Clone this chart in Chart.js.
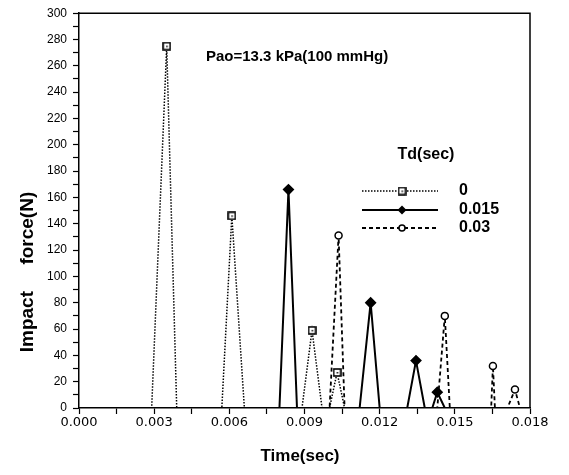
<!DOCTYPE html>
<html>
<head>
<meta charset="utf-8">
<script src="https://cdn.jsdelivr.net/npm/chart.js@4.4.1/dist/chart.umd.min.js"></script>
<style>
  html, body { margin: 0; padding: 0; background: #fff; }
  #wrap { width: 569px; height: 475px; }
</style>
</head>
<body>
<div id="wrap"><canvas id="chart" width="569" height="475"></canvas></div>
<script>
// Td = 0 s (dotted, boxed squares)
const timeTd0  = [0, 0.0029, 0.0035, 0.0039, 0.0057, 0.0061, 0.0066, 0.0089, 0.0093, 0.0097, 0.0100, 0.0103, 0.0106, 0.0175];
const forceTd0 = [0, 0, 275, 0, 0, 146, 0, 0, 59, 0, 0, 27, 0, 0];

// Td = 0.015 s (solid, filled diamonds)
const timeTd015  = [0, 0.0080, 0.00836, 0.0087, 0.0112, 0.01164, 0.0120, 0.0131, 0.01345, 0.0138, 0.0141, 0.0143, 0.0146, 0.0175];
const forceTd015 = [0, 0, 166, 0, 0, 80, 0, 0, 36, 0, 0, 12, 0, 0];

// Td = 0.03 s (dashed, open circles)
const timeTd03  = [0, 0.0100, 0.01036, 0.0106, 0.0143, 0.0146, 0.0148, 0.01645, 0.01652, 0.0166, 0.0171, 0.0174, 0.0176, 0.0178];
const forceTd03 = [0, 0, 131, 0, 0, 70, 0, 0, 32, 0, 0, 14, 0, 0];

const seriesLabels = ['0', '0.015', '0.03'];
const xTickStep = 0.0015;
const yTickStep = 10;

const FONT = '"Liberation Sans", Arial, Helvetica, sans-serif';

function toPoints(xs, ys) {
  return xs.map((x, i) => ({ x: x, y: ys[i] }));
}

// boxed-square marker (square with a dot inside)
function makeSquareMarker() {
  const c = document.createElement('canvas');
  c.width = 9; c.height = 9;
  const g = c.getContext('2d');
  g.fillStyle = '#fff';
  g.fillRect(0, 0, 9, 9);
  g.strokeStyle = '#000';
  g.lineWidth = 1.6;
  g.strokeRect(1, 1, 7, 7);
  g.fillStyle = '#000';
  g.fillRect(4, 4, 1.5, 1.5);
  return c;
}
const squareMarker = makeSquareMarker();

const peakOnly = r => ctx => (ctx.raw && ctx.raw.y > 0 ? r : 0);

const datasets = [
  {
    label: seriesLabels[0],
    data: toPoints(timeTd0, forceTd0),
    borderColor: '#000',
    borderWidth: 1.5,
    borderDash: [1.5, 1.5],
    pointStyle: squareMarker,
    pointRadius: peakOnly(4),
    backgroundColor: '#fff'
  },
  {
    label: seriesLabels[1],
    data: toPoints(timeTd015, forceTd015),
    borderColor: '#000',
    borderWidth: 2,
    pointStyle: 'rectRot',
    pointRadius: peakOnly(4.5),
    pointBackgroundColor: '#000',
    backgroundColor: '#000'
  },
  {
    label: seriesLabels[2],
    data: toPoints(timeTd03, forceTd03),
    borderColor: '#000',
    borderWidth: 1.8,
    borderDash: [4, 3],
    pointStyle: 'circle',
    pointRadius: peakOnly(3.5),
    pointBorderWidth: 1.5,
    pointBackgroundColor: '#fff',
    backgroundColor: '#fff'
  }
];

const decor = {
  id: 'decor',
  afterDraw(chart) {
    const ctx = chart.ctx;
    const a = chart.chartArea;
    ctx.save();
    // frame: top and right edges
    ctx.strokeStyle = '#000';
    ctx.lineWidth = 1.5;
    ctx.beginPath();
    ctx.moveTo(a.left, a.top);
    ctx.lineTo(a.right, a.top);
    ctx.lineTo(a.right, a.bottom);
    ctx.stroke();

    ctx.fillStyle = '#000';
    // annotation
    ctx.font = 'bold 15px ' + FONT;
    ctx.textAlign = 'left';
    ctx.textBaseline = 'middle';
    ctx.fillText('Pao=13.3 kPa(100 mmHg)', 206, 57);

    // legend
    ctx.font = 'bold 16px ' + FONT;
    ctx.textAlign = 'center';
    ctx.fillText('Td(sec)', 426, 155);
    const rows = [191, 210, 228];
    const x1 = 362, x2 = 438, mx = 402;
    datasets.forEach((ds, i) => {
      const y = rows[i];
      ctx.setLineDash(ds.borderDash || []);
      ctx.lineWidth = ds.borderWidth;
      ctx.beginPath();
      ctx.moveTo(x1, y);
      ctx.lineTo(x2, y);
      ctx.stroke();
      ctx.setLineDash([]);
      if (i === 0) {
        ctx.drawImage(squareMarker, mx - 4.5, y - 4.5);
      } else if (i === 1) {
        ctx.beginPath();
        ctx.moveTo(mx, y - 4.5); ctx.lineTo(mx + 4.5, y); ctx.lineTo(mx, y + 4.5); ctx.lineTo(mx - 4.5, y);
        ctx.closePath();
        ctx.fill();
      } else {
        ctx.beginPath();
        ctx.arc(mx, y, 3, 0, Math.PI * 2);
        ctx.fillStyle = '#fff';
        ctx.fill();
        ctx.lineWidth = 1.5;
        ctx.stroke();
        ctx.fillStyle = '#000';
      }
      ctx.textAlign = 'left';
      ctx.fillText(ds.label, 459, y);
    });

    // axis titles
    ctx.font = 'bold 17px ' + FONT;
    ctx.textAlign = 'center';
    ctx.fillText('Time(sec)', 300, 456);
    ctx.font = 'bold 19px ' + FONT;
    ctx.translate(28, 272);
    ctx.rotate(-Math.PI / 2);
    ctx.fillText('Impact     force(N)', 0, 0);
    ctx.restore();
  }
};

new Chart(document.getElementById('chart'), {
  type: 'line',
  data: { datasets: datasets },
  options: {
    responsive: false,
    devicePixelRatio: 1,
    animation: false,
    events: [],
    layout: { padding: { top: 12, right: 39, left: 0, bottom: 0 } },
    elements: { line: { tension: 0, fill: false } },
    plugins: { legend: { display: false }, tooltip: { enabled: false } },
    scales: {
      x: {
        type: 'linear',
        min: 0,
        max: 0.018,
        afterBuildTicks: scale => {
          const t = [];
          for (let i = 0; i <= 12; i++) t.push({ value: i * xTickStep });
          scale.ticks = t;
        },
        afterFit: scale => { scale.height = 67; },
        ticks: {
          autoSkip: false,
          maxRotation: 0,
          color: '#000',
          padding: 1,
          font: { family: '"DejaVu Sans", sans-serif', size: 13 },
          callback: v => (Math.round(v / xTickStep) % 2 === 0 ? v.toFixed(3) : '')
        },
        grid: { drawOnChartArea: false, color: '#000', tickLength: 6, tickWidth: 1.2 },
        border: { color: '#000', width: 1.5 }
      },
      y: {
        min: 0,
        max: 300,
        afterFit: scale => { scale.width = 79; },
        ticks: {
          stepSize: yTickStep,
          autoSkip: false,
          color: '#000',
          padding: 6,
          font: { family: FONT, size: 12 },
          callback: v => (v % 20 === 0 ? v : '')
        },
        grid: { drawOnChartArea: false, color: '#000', tickLength: 6, tickWidth: 1.2 },
        border: { color: '#000', width: 1.5 }
      }
    }
  },
  plugins: [decor]
});
</script>
</body>
</html>
